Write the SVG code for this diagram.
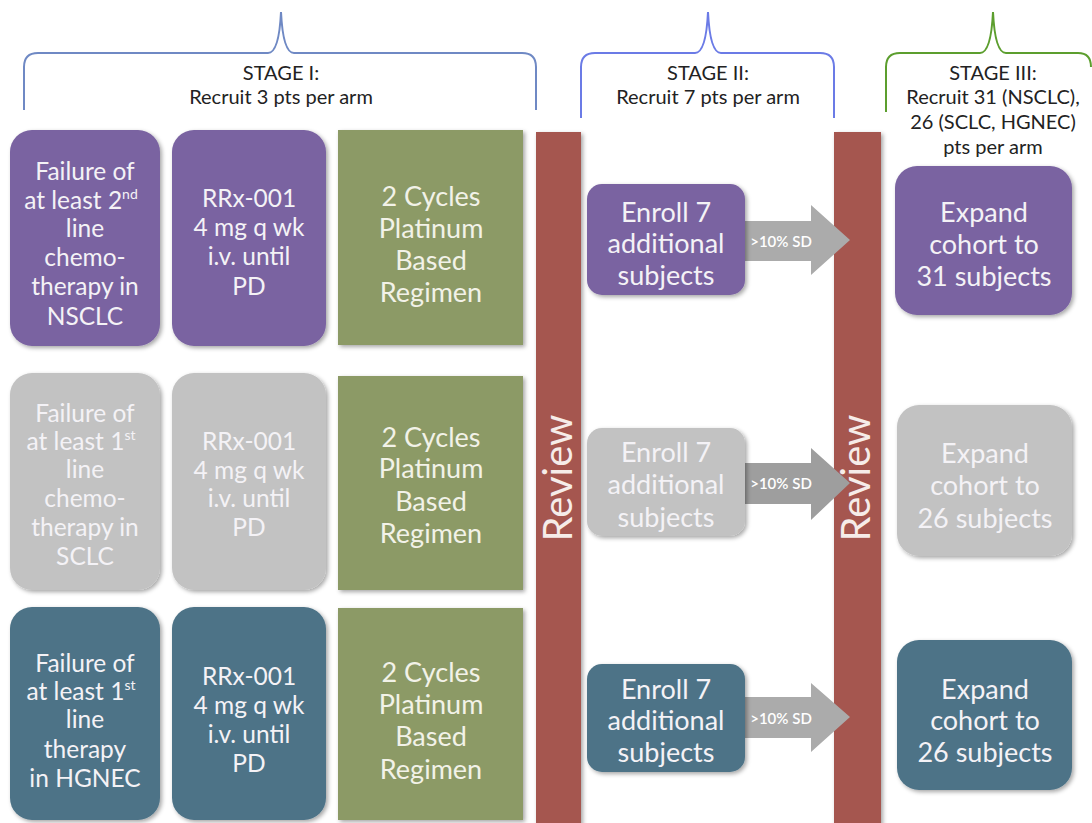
<svg xmlns="http://www.w3.org/2000/svg" width="1092" height="823" viewBox="0 0 1092 823">
<defs>
<filter id="sh" x="-10%" y="-10%" width="125%" height="125%">
<feDropShadow dx="2" dy="2" stdDeviation="2" flood-color="#000" flood-opacity="0.35"/>
</filter>
</defs>
<style>
text{font-family:Lato,"Open Sans","Liberation Sans",sans-serif;text-anchor:middle;dominant-baseline:central;}
.t{fill:#f4f2f6;font-size:24.5px;}
.g{fill:#f2f2e8;font-size:27px;}
.e{fill:#f4f2f6;font-size:27px;}
.h{fill:#222;font-size:20px;}
.rv{fill:#f6ece9;font-size:40px;}
.lb{fill:#fff;font-size:15px;font-weight:600;}
.pu{fill:#7a63a1;}
.gr{fill:#c2c2c2;}
.tl{fill:#4d7387;}
.ol{fill:#8c9a66;}
.ar{fill:#ababab;}
.bar{fill:#a5564f;}
.br{fill:none;stroke-width:2;}
.sup{font-size:14px;}
</style>
<rect width="1092" height="823" fill="#fff"/>

<g id="stage1">
<path class="br" stroke="#6f89c4" d="M24 110 L24 67 Q24 53 38 53 L268 53 Q279 53 281 12 Q283 53 294 53 L522 53 Q536 53 536 67 L536 110"/>
<text class="h" x="281" y="72">STAGE I:</text>
<text class="h" x="281" y="96">Recruit 3 pts per arm</text>
</g>
<g id="stage2">
<path class="br" stroke="#6b7be6" d="M581 118 L581 67 Q581 53 595 53 L695 53 Q706 53 708 12 Q710 53 721 53 L820 53 Q834 53 834 67 L834 118"/>
<text class="h" x="708" y="72">STAGE II:</text>
<text class="h" x="708" y="96">Recruit 7 pts per arm</text>
</g>
<g id="stage3">
<path class="br" stroke="#5c9e2e" d="M886 112 L886 67 Q886 53 900 53 L980 53 Q991 53 993 12 Q995 53 1006 53 L1078 53 Q1091 53 1091 67"/>
<text class="h" x="993" y="72">STAGE III:</text>
<text class="h" x="993" y="96">Recruit 31 (NSCLC),</text>
<text class="h" x="993" y="121">26 (SCLC, HGNEC)</text>
<text class="h" x="993" y="146">pts per arm</text>
</g>

<g id="review1">
<rect class="bar" x="536" y="132" width="45" height="700" filter="url(#sh)"/>
<text class="rv" transform="translate(557 478) rotate(-90)">Review</text>
</g>
<g id="review2">
<rect class="bar" x="834" y="132" width="47" height="700" filter="url(#sh)"/>
<text class="rv" transform="translate(855 478) rotate(-90)">Review</text>
</g>

<g id="connectors">
<g id="arrow1">
<path class="ar" d="M745 221 L811 221 L811 205 L850 240 L811 275 L811 261 L745 261 Z"/>
<text class="lb" x="781" y="241">&gt;10% SD</text>
</g>
<g id="arrow2">
<path fill="#9e9e9e" d="M745 463 L811 463 L811 448 L850 483 L811 520 L811 504 L745 504 Z"/>
<text class="lb" x="781" y="483">&gt;10% SD</text>
</g>
<g id="arrow3">
<path class="ar" d="M745 697 L811 697 L811 683 L850 717 L811 752 L811 738 L745 738 Z"/>
<text class="lb" x="781" y="718">&gt;10% SD</text>
</g>
</g>

<!-- Row 1 -->
<g id="r1a">
<rect class="pu" x="10" y="130" width="150" height="216" rx="22" filter="url(#sh)"/>
<text class="t" x="85" y="170">Failure of</text>
<text class="t" x="81" y="199">at least 2<tspan class="sup" dy="-6">nd</tspan></text>
<text class="t" x="85" y="227">line</text>
<text class="t" x="85" y="256">chemo-</text>
<text class="t" x="85" y="285">therapy in</text>
<text class="t" x="85" y="315">NSCLC</text>
</g>
<g id="r1b">
<rect class="pu" x="172" y="130" width="154" height="216" rx="22" filter="url(#sh)"/>
<text class="t" x="249" y="197">RRx-001</text>
<text class="t" x="249" y="226">4 mg q wk</text>
<text class="t" x="249" y="255">i.v. until</text>
<text class="t" x="249" y="285">PD</text>
</g>
<g id="r1c">
<rect class="ol" x="338" y="130" width="185" height="215" filter="url(#sh)"/>
<text class="g" x="431" y="195">2 Cycles</text>
<text class="g" x="431" y="227">Platinum</text>
<text class="g" x="431" y="259">Based</text>
<text class="g" x="431" y="291">Regimen</text>
</g>
<g id="r1d">
<rect class="pu" x="587" y="184" width="158" height="111" rx="15" filter="url(#sh)"/>
<text class="e" x="666" y="211">Enroll 7</text>
<text class="e" x="666" y="242">additional</text>
<text class="e" x="666" y="274">subjects</text>
</g>
<g id="r1e">
<rect class="pu" x="895" y="166" width="177" height="149" rx="22" filter="url(#sh)"/>
<text class="e" x="984" y="211">Expand</text>
<text class="e" x="984" y="243">cohort to</text>
<text class="e" x="984" y="275">31 subjects</text>
</g>

<!-- Row 2 -->
<g id="r2a">
<rect class="gr" x="10" y="373" width="150" height="217" rx="22" filter="url(#sh)"/>
<text class="t" x="85" y="412">Failure of</text>
<text class="t" x="81" y="440">at least 1<tspan class="sup" dy="-6">st</tspan></text>
<text class="t" x="85" y="468">line</text>
<text class="t" x="85" y="497">chemo-</text>
<text class="t" x="85" y="526">therapy in</text>
<text class="t" x="85" y="555">SCLC</text>
</g>
<g id="r2b">
<rect class="gr" x="172" y="373" width="154" height="217" rx="22" filter="url(#sh)"/>
<text class="t" x="249" y="440">RRx-001</text>
<text class="t" x="249" y="469">4 mg q wk</text>
<text class="t" x="249" y="497">i.v. until</text>
<text class="t" x="249" y="526">PD</text>
</g>
<g id="r2c">
<rect class="ol" x="338" y="376" width="185" height="214" filter="url(#sh)"/>
<text class="g" x="431" y="436">2 Cycles</text>
<text class="g" x="431" y="467">Platinum</text>
<text class="g" x="431" y="500">Based</text>
<text class="g" x="431" y="532">Regimen</text>
</g>
<g id="r2d">
<rect class="gr" x="587" y="428" width="158" height="108" rx="15" filter="url(#sh)"/>
<text class="e" x="666" y="451">Enroll 7</text>
<text class="e" x="666" y="483">additional</text>
<text class="e" x="666" y="516">subjects</text>
</g>
<g id="r2e">
<rect class="gr" x="897" y="405" width="175" height="151" rx="22" filter="url(#sh)"/>
<text class="e" x="985" y="452">Expand</text>
<text class="e" x="985" y="484">cohort to</text>
<text class="e" x="985" y="517">26 subjects</text>
</g>

<!-- Row 3 -->
<g id="r3a">
<rect class="tl" x="10" y="607" width="150" height="213" rx="22" filter="url(#sh)"/>
<text class="t" x="85" y="662">Failure of</text>
<text class="t" x="81" y="690">at least 1<tspan class="sup" dy="-6">st</tspan></text>
<text class="t" x="85" y="718">line</text>
<text class="t" x="85" y="748">therapy</text>
<text class="t" x="85" y="777">in HGNEC</text>
</g>
<g id="r3b">
<rect class="tl" x="172" y="607" width="154" height="213" rx="22" filter="url(#sh)"/>
<text class="t" x="249" y="675">RRx-001</text>
<text class="t" x="249" y="704">4 mg q wk</text>
<text class="t" x="249" y="733">i.v. until</text>
<text class="t" x="249" y="762">PD</text>
</g>
<g id="r3c">
<rect class="ol" x="338" y="608" width="185" height="212" filter="url(#sh)"/>
<text class="g" x="431" y="671">2 Cycles</text>
<text class="g" x="431" y="703">Platinum</text>
<text class="g" x="431" y="735">Based</text>
<text class="g" x="431" y="768">Regimen</text>
</g>
<g id="r3d">
<rect class="tl" x="587" y="664" width="158" height="108" rx="15" filter="url(#sh)"/>
<text class="e" x="666" y="688">Enroll 7</text>
<text class="e" x="666" y="719">additional</text>
<text class="e" x="666" y="751">subjects</text>
</g>
<g id="r3e">
<rect class="tl" x="897" y="640" width="175" height="150" rx="22" filter="url(#sh)"/>
<text class="e" x="985" y="688">Expand</text>
<text class="e" x="985" y="719">cohort to</text>
<text class="e" x="985" y="751">26 subjects</text>
</g>
</svg>
